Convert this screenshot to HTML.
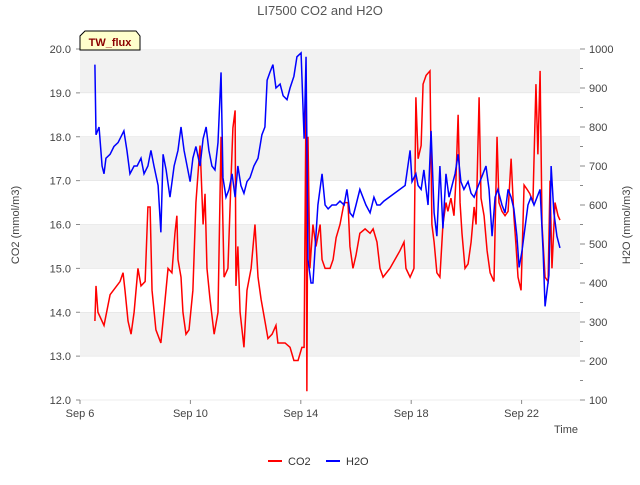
<!DOCTYPE html>
<html><head><meta charset="utf-8"><style>
body{margin:0;background:#fff;}
svg{font-family:"Liberation Sans","DejaVu Sans",sans-serif;}
</style></head><body>
<svg id="chart" width="640" height="480" viewBox="0 0 640 480">
<text x="320" y="15" text-anchor="middle" font-size="13" fill="#555">LI7500 CO2 and H2O</text>
<g id="bands"></g><g id="axes"></g><g id="series"></g>
<g>
<path d="M80,50 L80,36 L85,31 L136,31 L140,36 L140,50 Z" fill="#ffffcc" stroke="#000" stroke-width="1"/>
<text x="110" y="46" text-anchor="middle" font-size="11" font-weight="bold" fill="#8b0000">TW_flux</text>
</g>
<text x="566" y="433" text-anchor="middle" font-size="11" fill="#444">Time</text>
<text transform="translate(19,225) rotate(-90)" text-anchor="middle" font-size="11" fill="#444">CO2 (mmol/m3)</text>
<text transform="translate(630,225) rotate(-90)" text-anchor="middle" font-size="11" fill="#444">H2O (mmol/m3)</text>
<g><line x1="268" y1="461" x2="282" y2="461" stroke="red" stroke-width="2"/><text x="288" y="465" font-size="11" fill="#333">CO2</text></g>
<g><line x1="326" y1="461" x2="340" y2="461" stroke="blue" stroke-width="2"/><text x="346" y="465" font-size="11" fill="#333">H2O</text></g>
</svg>
<script>
const xTickDays=[0,4,8,12,16];
const xTickLabels=["Sep 6","Sep 10","Sep 14","Sep 18","Sep 22"];
const co2Ticks=[12,13,14,15,16,17,18,19,20];
const h2oTicks=[100,200,300,400,500,600,700,800,900,1000];
const co2Days=[0.54,0.58,0.65,0.87,1.09,1.45,1.56,1.63,1.74,1.85,1.96,2.10,2.21,2.36,2.46,2.54,2.61,2.75,2.93,3.04,3.19,3.33,3.44,3.51,3.55,3.66,3.73,3.84,3.95,4.09,4.20,4.35,4.46,4.53,4.60,4.71,4.86,5.00,5.11,5.22,5.36,5.47,5.54,5.62,5.65,5.72,5.80,5.87,5.94,6.05,6.20,6.34,6.45,6.56,6.70,6.81,6.96,7.10,7.17,7.43,7.61,7.75,7.90,8.04,8.12,8.19,8.22,8.26,8.33,8.44,8.55,8.70,8.77,8.88,9.06,9.17,9.28,9.42,9.57,9.71,9.78,9.89,10.00,10.14,10.33,10.51,10.62,10.76,10.87,10.98,11.23,11.59,11.74,11.81,11.96,12.10,12.17,12.25,12.36,12.43,12.54,12.68,12.75,12.83,12.93,13.04,13.15,13.26,13.33,13.44,13.55,13.62,13.70,13.77,13.84,13.95,14.06,14.17,14.28,14.35,14.46,14.53,14.64,14.75,14.86,15.00,15.11,15.18,15.29,15.40,15.51,15.62,15.72,15.80,15.87,15.98,16.09,16.20,16.30,16.41,16.52,16.59,16.67,16.74,16.85,16.96,17.03,17.10,17.21,17.32,17.39];
const co2Values=[13.8,14.6,14.0,13.7,14.4,14.7,14.9,14.5,13.8,13.5,14.0,15.0,14.6,14.7,16.4,16.4,14.5,13.6,13.3,14.0,15.0,14.9,15.8,16.2,15.2,14.8,14.0,13.5,13.6,14.5,16.5,17.8,16.0,16.7,15.0,14.3,13.5,14.0,18.0,14.8,15.0,17.0,18.2,18.6,14.6,15.5,14.0,13.6,13.2,14.5,15.0,16.0,14.8,14.3,13.8,13.4,13.5,13.7,13.3,13.3,13.2,12.9,12.9,13.2,13.2,19.0,12.2,18.0,15.0,16.0,15.5,16.0,15.2,15.0,15.0,15.2,15.7,16.0,16.5,16.5,15.5,15.0,15.3,15.8,15.9,15.8,15.9,15.6,15.0,14.8,15.0,15.4,15.6,15.0,14.8,15.0,18.9,17.5,17.8,19.2,19.4,19.5,16.0,15.6,14.9,14.8,16.0,16.5,16.3,16.6,16.2,17.0,18.5,16.5,15.8,15.0,15.1,15.6,16.4,16.0,18.9,16.6,16.2,15.4,14.9,14.7,18.0,16.5,16.3,16.2,16.3,17.5,16.2,15.5,14.8,14.5,16.9,16.8,16.7,16.5,19.2,17.6,19.5,16.0,14.8,14.7,17.0,15.0,16.5,16.2,16.1];
const h2oDays=[0.54,0.58,0.69,0.80,0.87,0.94,1.09,1.23,1.38,1.59,1.70,1.81,1.96,2.07,2.21,2.32,2.46,2.57,2.68,2.83,2.93,3.01,3.12,3.26,3.41,3.55,3.66,3.77,3.88,3.99,4.09,4.20,4.35,4.46,4.57,4.67,4.78,4.89,5.00,5.11,5.18,5.29,5.40,5.51,5.62,5.72,5.83,5.94,6.05,6.16,6.30,6.45,6.59,6.70,6.78,6.88,6.99,7.10,7.25,7.36,7.50,7.61,7.75,7.86,8.01,8.12,8.19,8.26,8.37,8.44,8.51,8.62,8.77,8.88,8.99,9.13,9.28,9.42,9.57,9.67,9.78,9.89,10.00,10.14,10.25,10.36,10.51,10.65,10.76,10.87,11.01,11.78,11.88,11.96,12.03,12.17,12.25,12.36,12.46,12.54,12.61,12.72,12.83,12.93,13.04,13.15,13.26,13.37,13.48,13.59,13.70,13.80,13.91,14.06,14.17,14.28,14.38,14.49,14.60,14.71,14.82,14.93,15.04,15.14,15.29,15.40,15.51,15.62,15.72,15.83,15.91,16.01,16.12,16.23,16.34,16.45,16.56,16.67,16.78,16.85,16.92,16.99,17.07,17.17,17.28,17.39];
const h2oValues=[960,780,800,700,680,720,730,750,760,790,740,680,700,700,720,680,700,740,700,650,530,730,690,620,700,740,800,740,700,660,720,750,700,770,800,740,700,690,760,940,670,620,640,680,620,700,650,630,660,670,700,720,780,800,920,940,960,900,910,880,870,900,930,980,990,770,980,460,400,400,480,600,680,600,590,600,600,610,600,640,580,570,600,640,620,600,580,620,600,600,610,650,700,740,660,680,650,640,690,640,600,790,580,520,700,540,680,620,650,680,730,660,640,660,630,620,640,660,680,700,640,520,620,640,600,580,640,620,590,520,440,480,540,600,620,600,620,640,480,340,380,420,700,580,520,490];

const X0=80,X1=580,Y0=49,Y1=400,pxPerDay=27.6;
const xs=d=>X0+d*pxPerDay;
const yL=v=>Y1-(v-12)/8*(Y1-Y0);
const yR=v=>Y1-(v-100)/900*(Y1-Y0);
const NS="http://www.w3.org/2000/svg";
function mk(tag,attrs,parent){const e=document.createElementNS(NS,tag);for(const k in attrs)e.setAttribute(k,attrs[k]);parent.appendChild(e);return e;}
const bands=document.getElementById('bands'),axes=document.getElementById('axes'),series=document.getElementById('series');
mk('rect',{x:X0,y:Y0,width:X1-X0,height:Y1-Y0,fill:'#fff'},bands);
for(let i=0;i<co2Ticks.length-1;i++){
  if(i%2===1){const r=mk('rect',{x:X0,y:yL(co2Ticks[i+1]),width:X1-X0,height:yL(co2Ticks[i])-yL(co2Ticks[i+1]),fill:'#f2f2f2'},bands);
  
  }
  const g=mk('line',{x1:X0,x2:X1,y1:yL(co2Ticks[i]),y2:yL(co2Ticks[i]),stroke:'#ddd','stroke-width':0.6},bands);
}
co2Ticks.forEach(v=>{const y=yL(v);
  mk('line',{x1:X0-4,x2:X0,y1:y,y2:y,stroke:'#888'},axes);
  const t=mk('text',{x:X0-9,y:y+4,'text-anchor':'end','font-size':11,fill:'#444'},axes);t.textContent=v.toFixed(1);
  
  });
h2oTicks.forEach(v=>{const y=yR(v);
  mk('line',{x1:X1,x2:X1+5,y1:y,y2:y,stroke:'#888'},axes);
  if(v<1000){const ym=yR(v+50);mk('line',{x1:X1,x2:X1+3,y1:ym,y2:ym,stroke:'#888'},axes);}
  const t=mk('text',{x:X1+9,y:y+4,'font-size':11,fill:'#444'},axes);t.textContent=v;
  
  });
xTickDays.forEach((d,i)=>{const x=xs(d);
  mk('line',{x1:x,x2:x,y1:Y1,y2:Y1+4,stroke:'#888'},axes);
  const t=mk('text',{x:x,y:Y1+17,'text-anchor':'middle','font-size':11,fill:'#444'},axes);t.textContent=xTickLabels[i];
  
  });
const co2=mk('polyline',{points:co2Days.map((d,i)=>xs(d)+','+yL(co2Values[i])).join(' '),fill:'none',stroke:'red','stroke-width':1.5},series);


const h2o=mk('polyline',{points:h2oDays.map((d,i)=>xs(d)+','+yR(h2oValues[i])).join(' '),fill:'none',stroke:'blue','stroke-width':1.5},series);


</script>
</body></html>
